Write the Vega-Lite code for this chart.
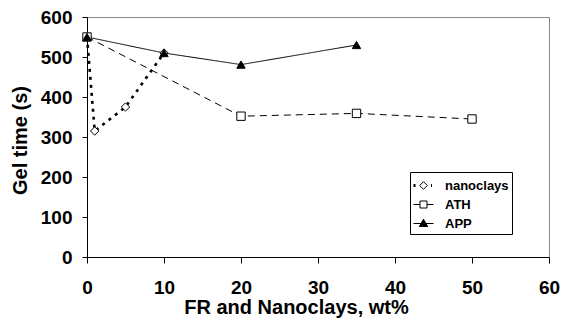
{
  "$schema": "https://vega.github.io/schema/vega-lite/v6.json",
  "autosize": "none",
  "width": 462,
  "height": 240,
  "padding": {"left": 87, "top": 17, "right": 12, "bottom": 67},
  "background": "white",
  "config": {
    "font": "Liberation Sans",
    "view": {"stroke": "#888888", "strokeWidth": 1},
    "axis": {
      "grid": false,
      "domainColor": "black",
      "tickColor": "black",
      "labelColor": "black",
      "titleColor": "black",
      "labelFont": "Liberation Sans",
      "titleFont": "Liberation Sans",
      "labelFontWeight": "bold",
      "titleFontWeight": "bold",
      "labelFontSize": 19,
      "titleFontSize": 20
    },
    "legend": {
      "labelFont": "Liberation Sans",
      "labelFontWeight": "bold",
      "labelFontSize": 13,
      "labelColor": "black",
      "symbolStrokeWidth": 1
    }
  },
  "data": {
    "values": [
      {"series": "nanoclays", "x": 0, "y": 550},
      {"series": "nanoclays", "x": 1, "y": 315},
      {"series": "nanoclays", "x": 5, "y": 375},
      {"series": "nanoclays", "x": 10, "y": 510},
      {"series": "ATH", "x": 0, "y": 550},
      {"series": "ATH", "x": 20, "y": 352},
      {"series": "ATH", "x": 35, "y": 359},
      {"series": "ATH", "x": 50, "y": 345},
      {"series": "APP", "x": 0, "y": 550},
      {"series": "APP", "x": 10, "y": 510},
      {"series": "APP", "x": 20, "y": 481},
      {"series": "APP", "x": 35, "y": 530}
    ]
  },
  "encoding": {
    "x": {
      "field": "x",
      "type": "quantitative",
      "scale": {"domain": [0, 60], "nice": false, "zero": true},
      "axis": {
        "title": "FR and Nanoclays, wt%",
        "values": [0, 10, 20, 30, 40, 50, 60],
        "tickSize": 6,
        "labelPadding": 15,
        "titlePadding": 0,
        "titleX": 209,
        "labelFlush": false,
        "labelOverlap": false
      }
    },
    "y": {
      "field": "y",
      "type": "quantitative",
      "scale": {"domain": [0, 600], "nice": false},
      "axis": {
        "title": "Gel time (s)",
        "values": [0, 100, 200, 300, 400, 500, 600],
        "tickSize": 5,
        "labelPadding": 10,
        "titlePadding": 10,
        "titleY": 123,
        "labelFlush": false,
        "labelOverlap": false
      }
    }
  },
  "layer": [
    {
      "mark": {"type": "line", "color": "black", "strokeCap": "butt"},
      "encoding": {
        "detail": {"field": "series", "type": "nominal"},
        "strokeDash": {
          "field": "series",
          "type": "nominal",
          "scale": {"domain": ["nanoclays", "ATH", "APP"], "range": [[3, 5], [7, 5], [1, 0]]},
          "legend": null
        },
        "strokeWidth": {
          "condition": {"test": "datum.series === 'nanoclays'", "value": 2.6},
          "value": 1
        }
      }
    },
    {
      "mark": {"type": "point", "filled": true, "stroke": "black", "strokeWidth": 1, "size": 70, "opacity": 1},
      "encoding": {
        "shape": {
          "field": "series",
          "type": "nominal",
          "scale": {"domain": ["nanoclays", "ATH", "APP"], "range": ["diamond", "square", "triangle-up"]},
          "legend": null
        },
        "fill": {
          "field": "series",
          "type": "nominal",
          "scale": {"domain": ["nanoclays", "ATH", "APP"], "range": ["white", "white", "black"]},
          "legend": null
        }
      }
    },
    {
      "transform": [{"filter": "false"}],
      "mark": {"type": "point", "filled": true, "strokeWidth": 1, "size": 400, "opacity": 1},
      "encoding": {
        "shape": {
          "field": "series",
          "type": "nominal",
          "scale": {
            "domain": ["nanoclays", "ATH", "APP"],
            "range": [
              "M-1,-0.1H-0.8 M-1,0H-0.8 M-1,0.1H-0.8 M0,-0.38L0.38,0L0,0.38L-0.38,0Z M0.8,-0.15V0.15",
              "M-1,0H-0.35 M0.35,0H1 M-0.35,-0.35H0.35V0.35H-0.35Z",
              "M-1,0H1 M0,-0.42L0.42,0.3H-0.42Z"
            ]
          },
          "legend": {
            "title": null,
            "orient": "none",
            "legendX": 323,
            "legendY": 155,
            "symbolSize": 400,
            "symbolStrokeWidth": 1,
            "strokeColor": "black",
            "fillColor": "white",
            "padding": 3,
            "rowPadding": 1,
            "labelOffset": 11
          }
        },
        "fill": {
          "field": "series",
          "type": "nominal",
          "scale": {"domain": ["nanoclays", "ATH", "APP"], "range": ["white", "white", "black"]},
          "legend": {
            "title": null,
            "orient": "none",
            "legendX": 323,
            "legendY": 155,
            "symbolSize": 400,
            "symbolStrokeWidth": 1,
            "strokeColor": "black",
            "fillColor": "white",
            "padding": 3,
            "rowPadding": 1,
            "labelOffset": 11
          }
        },
        "stroke": {
          "field": "series",
          "type": "nominal",
          "scale": {"domain": ["nanoclays", "ATH", "APP"], "range": ["black", "black", "black"]},
          "legend": {
            "title": null,
            "orient": "none",
            "legendX": 323,
            "legendY": 155,
            "symbolSize": 400,
            "symbolStrokeWidth": 1,
            "strokeColor": "black",
            "fillColor": "white",
            "padding": 3,
            "rowPadding": 1,
            "labelOffset": 11
          }
        }
      }
    }
  ],
  "resolve": {"scale": {"shape": "independent", "fill": "independent", "stroke": "independent"}}
}
